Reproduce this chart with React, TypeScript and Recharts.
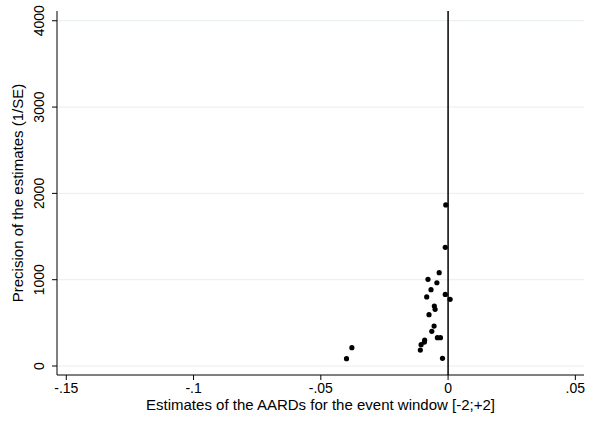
import React from "react";
import {
  ScatterChart,
  Scatter,
  XAxis,
  YAxis,
  CartesianGrid,
  ReferenceLine,
} from "recharts";

const estimates = [
  -0.0009, -0.0011, -0.0035, -0.0079, -0.0044, -0.0067, -0.0084, -0.0011,
  0.0008, -0.0054, -0.0051, -0.0075, -0.0055, -0.0064, -0.0042, -0.003,
  -0.0092, -0.0093, -0.0106, -0.0109, -0.0022, -0.0378, -0.0399,
];
const precision = [
  1866, 1375, 1081, 1004, 965, 884, 800, 830, 773, 695, 657, 595, 463, 402,
  328, 328, 301, 278, 247, 185, 89, 212, 85,
];
const xTicks = [-0.15, -0.1, -0.05, 0, 0.05];
const xTickLabels = ["-.15", "-.1", "-.05", "0", ".05"];
const yTicks = [0, 1000, 2000, 3000, 4000];
const yTickLabels = ["0", "1000", "2000", "3000", "4000"];
const xTitle = "Estimates of the AARDs for the event window [-2;+2]";
const yTitle = "Precision of the estimates (1/SE)";

const data = estimates.map((e, i) => ({ x: e, y: precision[i] }));

const FONT = "'Liberation Sans', Arial, sans-serif";
const FS = 15;
const TFS = 14;

const XTick = (props: any) => {
  const { x, y, payload } = props;
  const idx = xTicks.indexOf(payload.value);
  return (
    <text x={x} y={y + 11} textAnchor="middle" fontFamily={FONT} fontSize={TFS} fill="#000">
      {idx >= 0 ? xTickLabels[idx] : payload.value}
    </text>
  );
};

const YTick = (props: any) => {
  const { x, y, payload } = props;
  const idx = yTicks.indexOf(payload.value);
  const cx = x - 6;
  return (
    <text
      x={cx}
      y={y}
      textAnchor="middle"
      transform={`rotate(-90, ${cx}, ${y})`}
      fontFamily={FONT}
      fontSize={TFS}
      fill="#000"
    >
      {idx >= 0 ? yTickLabels[idx] : payload.value}
    </text>
  );
};

const Dot = (props: any) => {
  const { cx, cy } = props;
  return <circle cx={cx} cy={cy} r={2.6} fill="#000" />;
};

export default function App() {
  return (
    <div style={{ position: "absolute", left: 0, top: 0, background: "#fff" }}>
      <ScatterChart
        width={596}
        height={424}
        margin={{ top: 11, right: 12, bottom: 19, left: 12 }}
      >
        <CartesianGrid
          horizontal={true}
          vertical={false}
          stroke="#E6EEF0"
          strokeWidth={1}
          horizontalValues={yTicks}
        />
        <XAxis
          type="number"
          dataKey="x"
          domain={[-0.15365, 0.0534]}
          ticks={xTicks}
          tick={<XTick />}
          tickLine={{ stroke: "#000" }}
          tickSize={5}
          axisLine={{ stroke: "#000" }}
          height={30}
          allowDataOverflow
          label={{
            value: xTitle,
            position: "insideBottom",
            offset: -5,
            fontFamily: FONT,
            fontSize: FS,
            fill: "#000",
          }}
        />
        <YAxis
          type="number"
          dataKey="y"
          domain={[-104, 4113]}
          ticks={yTicks}
          tick={<YTick />}
          tickLine={{ stroke: "#000" }}
          tickSize={5}
          axisLine={{ stroke: "#000" }}
          width={45}
          allowDataOverflow
          label={{
            value: yTitle,
            angle: -90,
            position: "insideLeft",
            offset: 0,
            dx: 6,
            style: { textAnchor: "middle" },
            fontFamily: FONT,
            fontSize: FS,
            fill: "#000",
          }}
        />
        <XAxis
          xAxisId="top"
          orientation="top"
          type="number"
          domain={[0, 1]}
          tick={false}
          tickLine={false}
          axisLine={{ stroke: "#7a7a7a" }}
          height={0}
        />
        <YAxis
          yAxisId="right"
          orientation="right"
          type="number"
          domain={[0, 1]}
          tick={false}
          tickLine={false}
          axisLine={{ stroke: "#7a7a7a" }}
          width={0}
        />
        <ReferenceLine x={0} stroke="#000" strokeWidth={1.5} />
        <Scatter data={data} shape={<Dot />} isAnimationActive={false} />
      </ScatterChart>
    </div>
  );
}
